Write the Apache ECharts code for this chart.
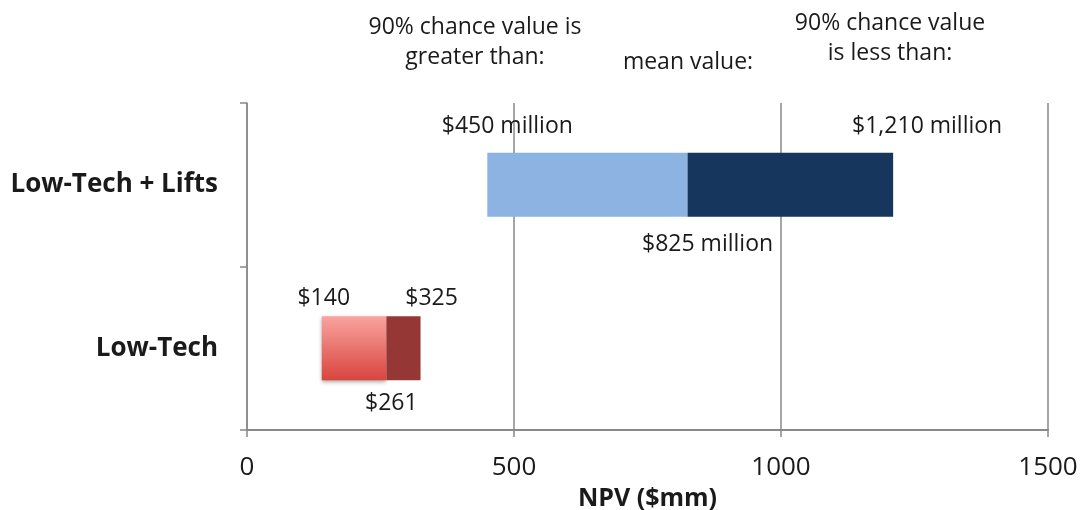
<!DOCTYPE html>
<html>
<head>
<meta charset="utf-8">
<script src="https://cdn.jsdelivr.net/npm/echarts@6/dist/echarts.min.js"></script>
<style>
	html, body { margin: 0; padding: 0; background: #fff; }
	#chart { width: 1083px; height: 510px; }
</style>
</head>
<body>
<div id="chart"></div>
<script>
var categories = ['Low-Tech', 'Low-Tech + Lifts'];
var p10Values = [140, 450];     // 90% chance value is greater than
var meanValues = [261, 825];    // mean value
var p90Values = [325, 1210];    // 90% chance value is less than
var labelSuffix = ['', ' million'];
var xTicks = [0, 500, 1000, 1500];

var font = 'Open Sans';
var chart = echarts.init(document.getElementById('chart'));

var lightColors = [
	new echarts.graphic.LinearGradient(0, 0, 0, 1, [
		{ offset: 0, color: '#f9a39f' },
		{ offset: 1, color: '#d8453e' }
	]),
	'#8db3e2'
];
var darkColors = ['#953735', '#17365d'];

function money(v, i) {
	return '$' + v.toLocaleString('en-US') + labelSuffix[i];
}

var baseData = [], lowData = [], highData = [];
for (var i = 0; i < categories.length; i++) {
	baseData.push(p10Values[i]);
	lowData.push({
		value: meanValues[i] - p10Values[i],
		itemStyle: {
			color: lightColors[i],
			shadowBlur: i == 0 ? 4 : 0,
			shadowOffsetY: i == 0 ? 2 : 0,
			shadowColor: 'rgba(0,0,0,0.35)'
		}
	});
	highData.push({ value: p90Values[i] - meanValues[i], itemStyle: { color: darkColors[i] } });
}

// label positions: [x offset, y offset] for p10 / mean / p90 labels per category
var p10Off = [[2, -50], [20, -58]];
var meanOff = [[5, 55], [20, 60]];
var p90Off = [[11, -50], [34, -58]];

function labelSeries(values, offs) {
	var d = [];
	for (var i = 0; i < categories.length; i++) {
		d.push({
			value: [values[i], categories[i]],
			label: { offset: offs[i], formatter: money(values[i], i) }
		});
	}
	return {
		type: 'scatter',
		symbolSize: 0,
		silent: true,
		z: 5,
		itemStyle: { opacity: 1 },
		label: {
			show: true,
			position: 'inside',
			fontFamily: font,
			fontSize: 23,
			color: '#1a1a1a'
		},
		data: d
	};
}

function header(x, y, text) {
	return {
		type: 'text',
		x: x,
		y: y,
		style: { text: text, fontFamily: font, fontSize: 23, fill: '#1a1a1a', align: 'center', lineHeight: 30 }
	};
}

var option = {
	animation: false,
	backgroundColor: '#fff',
	grid: { left: 247, right: 35, top: 103, bottom: 80, outerBoundsMode: 'none' },
	xAxis: {
		type: 'value',
		min: xTicks[0],
		max: xTicks[xTicks.length - 1],
		interval: xTicks[1] - xTicks[0],
		name: 'NPV ($mm)',
		nameLocation: 'middle',
		nameGap: 53,
		nameTextStyle: { fontFamily: font, fontSize: 25, fontWeight: 'bold', color: '#1a1a1a' },
		axisLine: { show: true, lineStyle: { color: '#888', width: 2 } },
		axisTick: { show: true, length: 7, lineStyle: { color: '#888', width: 1.5 } },
		axisLabel: {
			fontFamily: font,
			fontSize: 26,
			color: '#1a1a1a',
			margin: 25,
			formatter: function(v) { return String(v); }
		},
		splitLine: { show: true, lineStyle: { color: '#888', width: 1.5 } }
	},
	yAxis: {
		type: 'category',
		data: categories,
		axisLine: { show: true, lineStyle: { color: '#888', width: 1.5 } },
		axisTick: { show: true, length: 7, lineStyle: { color: '#888', width: 1.5 } },
		axisLabel: { fontFamily: font, fontSize: 26, fontWeight: 'bold', color: '#1a1a1a', margin: 29 }
	},
	graphic: [
		header(475, 12, '90% chance value is\ngreater than:'),
		header(688, 47, 'mean value:'),
		header(890, 8, '90% chance value\nis less than:')
	],
	series: [
		{
			type: 'bar',
			stack: 'npv',
			barWidth: '39%',
			silent: true,
			itemStyle: { color: 'transparent' },
			data: baseData
		},
		{ type: 'bar', stack: 'npv', barWidth: '39%', data: lowData },
		{ type: 'bar', stack: 'npv', barWidth: '39%', data: highData },
		labelSeries(p10Values, p10Off),
		labelSeries(meanValues, meanOff),
		labelSeries(p90Values, p90Off)
	]
};
chart.setOption(option);
window.onresize = function() {
	chart.resize();
};
</script>
</body>
</html>
